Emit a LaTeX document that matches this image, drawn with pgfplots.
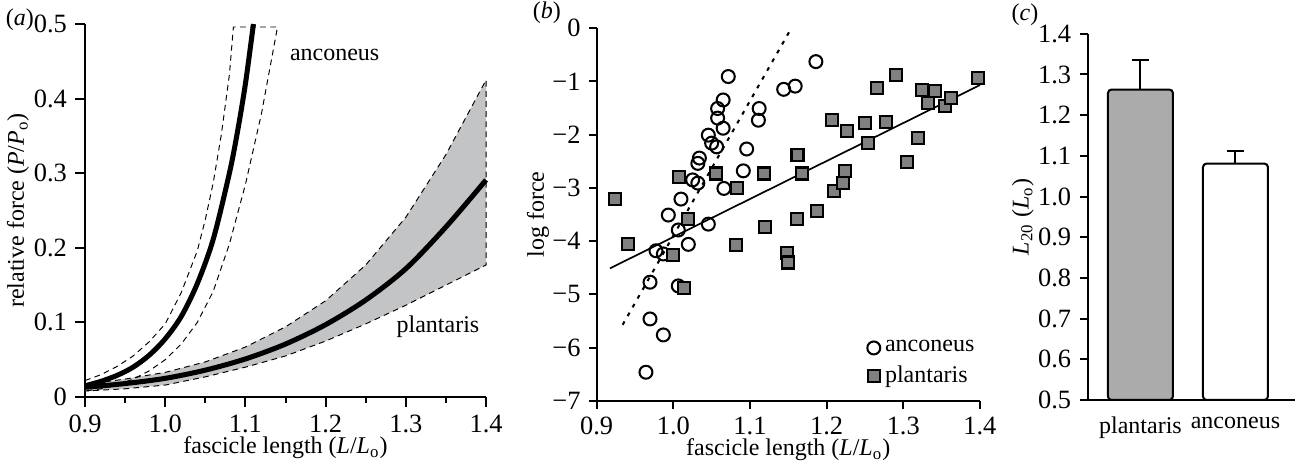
\documentclass[border=0pt]{standalone}
\usepackage{pgfplots}
\pgfplotsset{compat=1.18}
\usepackage{fontspec}
\setmainfont{Liberation Serif}
\definecolor{bandgray}{HTML}{C3C4C6}
\definecolor{sqgray}{HTML}{808080}
\definecolor{bargray}{HTML}{ABABAB}

\pgfplotsset{
  panel/.style={
    scale only axis, anchor=south west,
    axis lines=left, axis line style={-, line width=0.85pt},
    tick align=outside, tick style={line width=0.85pt, black},
    major tick length=3.5pt, minor tick length=2.3pt,
    tick label style={font=\fontsize{11}{13}\selectfont},
    label style={font=\normalsize},
    clip=false,
  },
}

\begin{document}
\begin{tikzpicture}
\useasboundingbox (0,0) rectangle (542.08pt,195.83pt);

% (a) relative force against fascicle length
\begin{axis}[panel,
  at={(35.42pt,30.42pt)}, width=167.1pt, height=155.4pt,
  xmin=0.9, xmax=1.4, ymin=0, ymax=0.5,
  xtick={0.9,1.0,1.1,1.2,1.3,1.4}, xticklabels={0.9,1.0,1.1,1.2,1.3,1.4},
  minor xtick={0.95,1.05,1.15,1.25,1.35},
  ytick={0,0.1,0.2,0.3,0.4,0.5}, yticklabels={0,0.1,0.2,0.3,0.4,0.5},
  major tick length=4pt,
  xlabel={fascicle length (\textit{L}/\textit{L}\textsubscript{o})},
  ylabel={relative force (\textit{P}/\textit{P}\textsubscript{o})},
  xlabel style={at={(axis description cs:0.5,-0.137)}, anchor=center},
  ylabel style={at={(axis description cs:-0.167,0.5)}, anchor=center},
]
% plantaris confidence band
\addplot[fill=bandgray, draw=black, line width=0.4pt, dash pattern=on 2.4pt off 1.8pt]
  coordinates {(0.90,0.017) (0.95,0.024) (1.00,0.033) (1.05,0.047) (1.10,0.067)
    (1.15,0.094) (1.20,0.129) (1.25,0.177) (1.30,0.241) (1.35,0.325) (1.40,0.425)
    (1.40,0.177) (1.35,0.150) (1.30,0.123) (1.25,0.098) (1.20,0.075) (1.15,0.055)
    (1.10,0.040) (1.05,0.027) (1.00,0.016) (0.95,0.011) (0.90,0.008)} -- cycle;
% anconeus confidence limits
\addplot[draw=black, line width=0.4pt, dash pattern=on 2.4pt off 1.8pt]
  coordinates {(0.90,0.022) (0.92,0.030) (0.94,0.041) (0.96,0.055) (0.98,0.074)
    (1.00,0.098) (1.02,0.140) (1.04,0.196) (1.05,0.238) (1.06,0.288) (1.07,0.352)
    (1.08,0.432) (1.085,0.496) (1.14,0.496) (1.12,0.380) (1.10,0.285) (1.08,0.205)
    (1.06,0.142) (1.04,0.100) (1.02,0.071) (1.00,0.050) (0.98,0.035) (0.96,0.024)
    (0.94,0.016) (0.92,0.011) (0.90,0.008)};
% plantaris fit
\addplot[black, line width=2.1pt, smooth]
  coordinates {(0.90,0.013) (0.95,0.018) (1.00,0.025) (1.05,0.036) (1.10,0.051)
    (1.15,0.071) (1.20,0.097) (1.25,0.130) (1.30,0.172) (1.35,0.228) (1.40,0.291)};
% anconeus fit
\addplot[black, line width=2.1pt, smooth]
  coordinates {(0.90,0.015) (0.92,0.021) (0.94,0.029) (0.96,0.040) (0.98,0.056)
    (1.00,0.078) (1.02,0.108) (1.04,0.152) (1.06,0.212) (1.08,0.300) (1.09,0.355)
    (1.10,0.420) (1.11,0.500)};
\node[anchor=west] at (axis cs:1.145,0.458) {anconeus};
\node at (axis cs:1.34,0.094) {plantaris};
\end{axis}

% (b) log force against fascicle length
\begin{axis}[panel,
  at={(248.6pt,28.75pt)}, width=159.7pt, height=155.4pt,
  xmin=0.9, xmax=1.4, ymin=-7, ymax=0,
  xtick={0.9,1.0,1.1,1.2,1.3,1.4}, xticklabels={0.9,1.0,1.1,1.2,1.3,1.4},
  ytick={-7,-6,-5,-4,-3,-2,-1,0},
  yticklabels={−7,−6,−5,−4,−3,−2,−1,0},
  major tick length=3.2pt,
  xlabel={fascicle length (\textit{L}/\textit{L}\textsubscript{o})},
  ylabel={log force},
  xlabel style={at={(axis description cs:0.5,-0.131)}, anchor=center},
  ylabel style={at={(axis description cs:-0.153,0.5)}, anchor=center},
  legend style={draw=none, fill=none, at={(1.018,0.012)}, anchor=south east,
    font=\normalsize, row sep=0.5pt},
  legend cell align=left,
]
\addplot[dash pattern=on 1.6pt off 2.6pt, line width=0.85pt, forget plot]
  coordinates {(0.9339,-5.57) (1.1513,-0.07)};
\addplot[black, line width=0.7pt, forget plot]
  coordinates {(0.9174,-4.51) (1.40,-1.07)};
\addplot[only marks, mark=o, mark size=2.7pt,
  mark options={draw=black, fill=white, line width=0.85pt}]
  coordinates {(0.9643,-6.46) (0.9696,-5.46) (0.987,-5.76) (0.9696,-4.77)
    (0.9774,-4.18) (0.987,-4.24) (0.9935,-3.51) (1.0065,-4.84) (1.0065,-3.79)
    (1.010,-3.21) (1.0196,-4.06) (1.0252,-2.85) (1.032,-2.91) (1.032,-2.54)
    (1.034,-2.44) (1.0457,-3.68) (1.0457,-2.01) (1.050,-2.16) (1.0565,-2.23)
    (1.0578,-1.69) (1.0578,-1.51) (1.065,-1.35) (1.065,-1.88) (1.066,-3.01)
    (1.0717,-0.91) (1.0913,-2.68) (1.0957,-2.27) (1.112,-1.51) (1.111,-1.73)
    (1.144,-1.15) (1.159,-1.09) (1.186,-0.63)};
\addlegendentry{anconeus}
\addplot[only marks, mark=square*, mark size=2.5pt,
  mark options={draw=black, fill=sqgray, line width=0.85pt}]
  coordinates {(0.9239,-3.21) (0.9404,-4.06) (1.0078,-2.79) (1.000,-4.26)
    (1.0143,-4.88) (1.0187,-3.59) (1.0557,-2.73) (1.0826,-3.01) (1.0813,-4.07)
    (1.118,-2.73) (1.1196,-3.73) (1.1478,-4.23) (1.150,-4.40) (1.162,-2.38)
    (1.168,-2.73) (1.161,-3.59) (1.188,-3.44) (1.207,-1.73) (1.210,-3.05)
    (1.2217,-2.90) (1.224,-2.68) (1.227,-1.94) (1.250,-1.78) (1.2543,-2.16)
    (1.266,-1.13) (1.277,-1.76) (1.290,-0.88) (1.3043,-2.52) (1.3187,-2.06)
    (1.324,-1.16) (1.3317,-1.41) (1.341,-1.18) (1.354,-1.46) (1.362,-1.32)
    (1.398,-0.93)};
\addlegendentry{plantaris}
\end{axis}

% (c) L20 bars
\begin{axis}[panel,
  at={(453.3pt,29.17pt)}, width=86.25pt, height=152.6pt,
  xmin=0.4474, xmax=2.626, ymin=0.5, ymax=1.4,
  clip=true,
  xtick={1,2}, xticklabels={plantaris,anconeus},
  x tick label style={font=\normalsize},
  x tick style={draw=none},
  ytick={0.5,0.6,0.7,0.8,0.9,1.0,1.1,1.2,1.3,1.4},
  yticklabels={0.5,0.6,0.7,0.8,0.9,1.0,1.1,1.2,1.3,1.4},
  ylabel={\textit{L}\textsubscript{20} (\textit{L}\textsubscript{o})},
  ylabel style={at={(axis description cs:-0.314,0.5)}, anchor=center},
  ybar, bar width=0.684, bar shift=0,
  every axis plot/.append style={line width=0.85pt, rounded corners=1.5pt},
  error bars/error bar style={line width=0.85pt, rounded corners=0pt},
  error bars/error mark options={rotate=90, mark size=3.6pt, line width=0.85pt},
]
\addplot[draw=black, fill=bargray,
  error bars/.cd, y dir=plus, y explicit]
  coordinates {(1,1.263) +- (0,0.072)};
\addplot[draw=black, fill=white,
  error bars/.cd, y dir=plus, y explicit]
  coordinates {(2,1.081) +- (0,0.031)};
\end{axis}

\node at (8.3pt,187.5pt) {(\textit{a})};
\node at (227.9pt,190.4pt) {(\textit{b})};
\node at (427.1pt,189.6pt) {(\textit{c})};
\end{tikzpicture}
\end{document}
